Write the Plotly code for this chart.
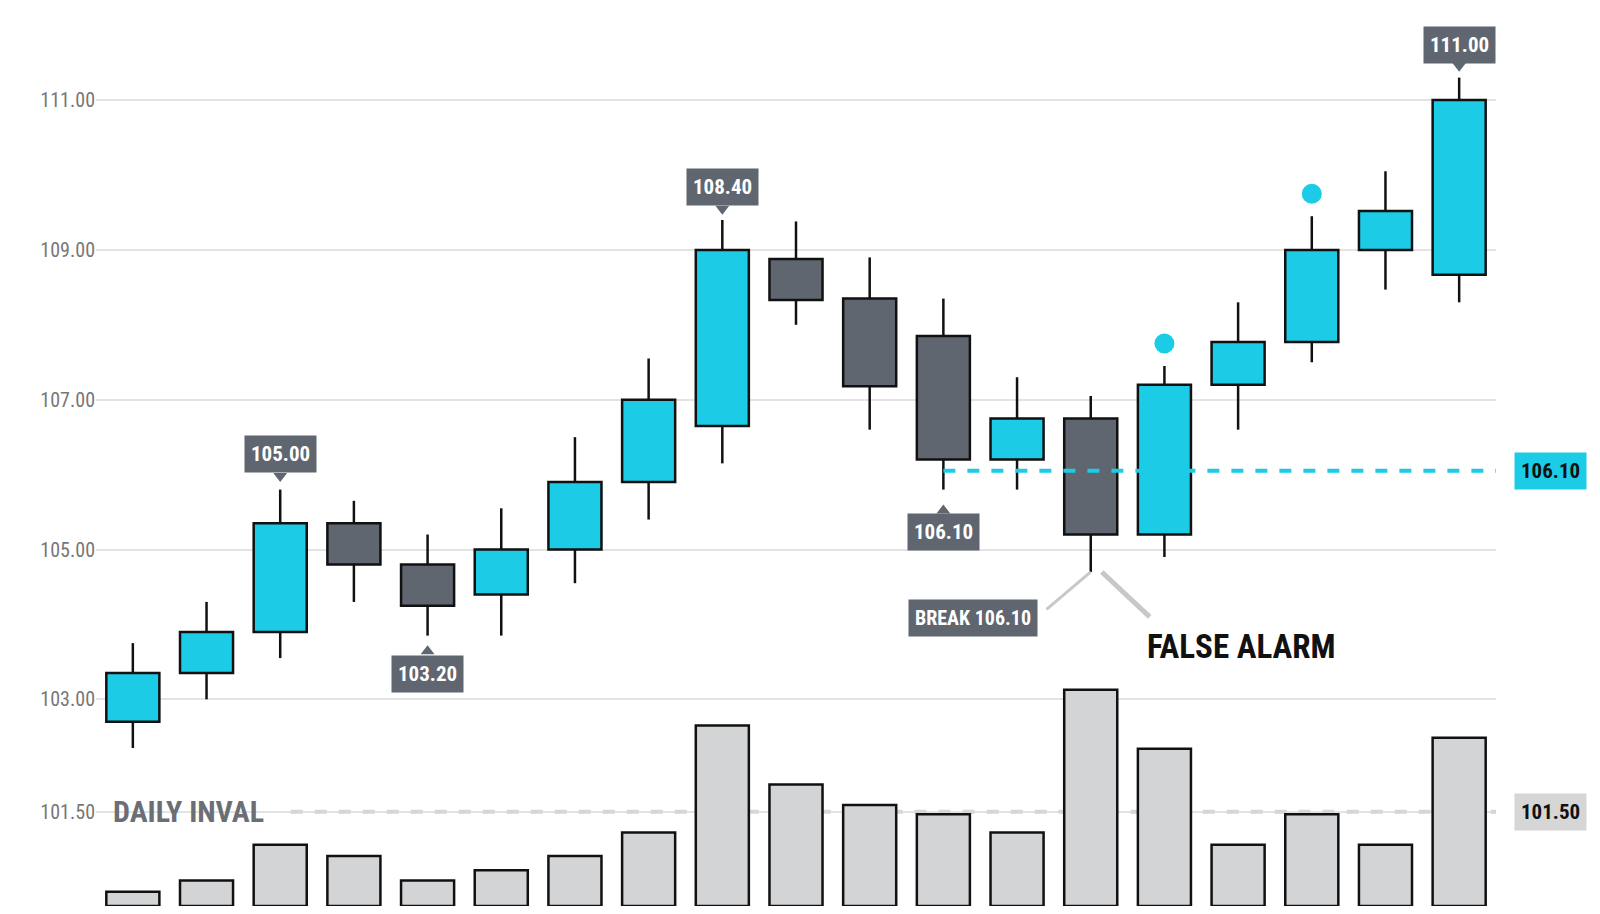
import plotly.graph_objects as go

opens  = [102.7, 103.35, 103.9, 105.35, 104.8, 104.4, 105.0, 105.9, 106.65, 108.88, 108.35, 107.85, 106.2, 106.75, 105.2, 107.2, 107.77, 109.0, 108.67]
closes = [103.35, 103.9, 105.35, 104.8, 104.25, 105.0, 105.9, 107.0, 109.0, 108.33, 107.18, 106.2, 106.75, 105.2, 107.2, 107.77, 109.0, 109.52, 111.0]
highs  = [103.75, 104.3, 105.8, 105.65, 105.2, 105.55, 106.5, 107.55, 109.4, 109.38, 108.9, 108.35, 107.3, 107.05, 107.45, 108.3, 109.45, 110.05, 111.3]
lows   = [102.35, 103.0, 103.55, 104.3, 103.85, 103.85, 104.55, 105.4, 106.15, 108.0, 106.6, 105.8, 105.8, 104.7, 104.9, 106.6, 107.5, 108.47, 108.3]
volume = [14, 25, 60, 49, 25, 35, 49, 72, 177, 119, 99, 90, 72, 212, 154, 60, 90, 60, 165]
yticks = [101.5, 103, 105, 107, 109, 111]
signal_idx = [14, 16]
signal_px = [107.75, 109.75]

CYAN = "#1ccbe6"
DARK = "#5f6670"
FONT = "Roboto Condensed, Roboto"
x = list(range(len(opens)))

fig = go.Figure()
fig.add_trace(go.Bar(x=x, y=volume, yaxis="y2", width=0.72,
                     marker=dict(color="#d3d4d6", line=dict(color="#111", width=2.5))))

# wicks split around the body so they don't cross it
wx, wy = [], []
for i in x:
    lo_b, hi_b = min(opens[i], closes[i]), max(opens[i], closes[i])
    wx += [i, i, None, i, i, None]
    wy += [lows[i], lo_b, None, hi_b, highs[i], None]
fig.add_trace(go.Scatter(x=wx, y=wy, mode="lines", line=dict(color="#111", width=2.5)))

fig.add_trace(go.Bar(x=x, base=[min(o, c) for o, c in zip(opens, closes)],
                     y=[abs(c - o) for o, c in zip(opens, closes)], width=0.72,
                     marker=dict(color=[CYAN if c >= o else DARK for o, c in zip(opens, closes)],
                                 line=dict(color="#111", width=2.5))))

fig.add_trace(go.Scatter(x=signal_idx, y=signal_px, mode="markers",
                         marker=dict(color=CYAN, size=20)))

fig.add_trace(go.Scatter(x=[2.14, 18.58], y=[101.5, 101.5], mode="lines",
                         line=dict(color="#d6d6d6", width=4, dash="dash")))
fig.add_trace(go.Scatter(x=[11, 18.58], y=[106.05, 106.05], mode="lines",
                         line=dict(color=CYAN, width=4, dash="dash")))
fig.add_trace(go.Scatter(x=[12.4, 13.0], y=[104.2, 104.7], mode="lines", line=dict(color="#c8c8c8", width=3)))
fig.add_trace(go.Scatter(x=[13.15, 13.8], y=[104.7, 104.1], mode="lines", line=dict(color="#c8c8c8", width=5)))

tri = [(2, 105.98, "triangle-down"), (4, 103.64, "triangle-up"), (8, 109.55, "triangle-down"),
       (11, 105.52, "triangle-up"), (18, 111.46, "triangle-down")]
for i, p, s in tri:
    fig.add_trace(go.Scatter(x=[i], y=[p], mode="markers", marker=dict(symbol=s, color=DARK, size=12)))

def label(i, p, text):
    fig.add_annotation(x=i, y=p, text="<b>" + text + "</b>", showarrow=False, bgcolor=DARK,
                       font=dict(color="white", size=21, family=FONT), borderpad=6)

label(2, 106.27, "105.00")
label(4, 103.34, "103.20")
label(8, 109.84, "108.40")
label(11, 105.23, "106.10")
label(18, 111.74, "111.00")
fig.add_annotation(x=11.4, y=104.08, text="<b>BREAK 106.10</b>", showarrow=False, bgcolor=DARK,
                   font=dict(color="white", size=20, family=FONT), borderpad=6)
fig.add_annotation(x=15.05, y=103.7, text="<b>FALSE ALARM</b>", showarrow=False,
                   font=dict(color="#111", size=33, family=FONT))
fig.add_annotation(x=0.75, y=101.5, text="<b>DAILY INVAL</b>", showarrow=False,
                   font=dict(color="#6b6f75", size=30, family=FONT))
fig.add_annotation(xref="paper", x=1.065, y=106.05, text="<b>106.10</b>", showarrow=False, bgcolor=CYAN,
                   font=dict(color="#111", size=21, family=FONT), borderpad=6)
fig.add_annotation(xref="paper", x=1.065, y=101.5, text="<b>101.50</b>", showarrow=False, bgcolor="#d6d6d6",
                   font=dict(color="#111", size=21, family=FONT), borderpad=6)

fig.update_layout(
    width=1600, height=914, plot_bgcolor="white", paper_bgcolor="white",
    showlegend=False, barmode="overlay",
    margin=dict(l=88, r=112, t=0, b=16),
    xaxis=dict(range=[-0.5, 18.5], showticklabels=False, showgrid=False, zeroline=False),
    yaxis=dict(range=[100.24, 112.23], tickvals=yticks, ticktext=[f"{v:.2f}" for v in yticks],
               gridcolor="#e3e3e3", gridwidth=1.5, zeroline=False,
               tickfont=dict(color="#777", size=20, family=FONT)),
    yaxis2=dict(overlaying="y", range=[0, 880], visible=False),
)
fig.write_html("out.html")
